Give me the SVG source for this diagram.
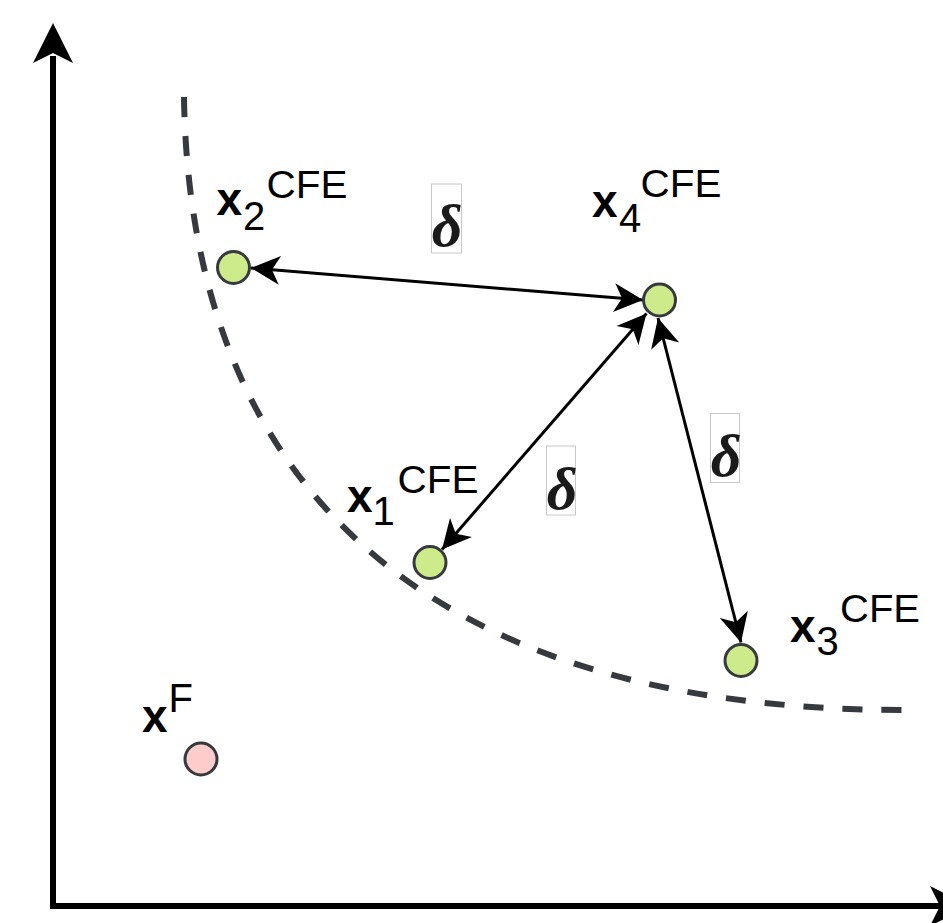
<svg xmlns="http://www.w3.org/2000/svg" width="943" height="923" viewBox="0 0 943 923">
  <defs>
    <style>
      .pt { stroke: #36393d; stroke-width: 3; }
      .cfe { fill: #cdeb8b; }
      .fac { fill: #ffcccc; }
      .xb { font-family: "Liberation Sans", Arial, sans-serif; font-weight: bold; font-size: 46px; fill: #000; }
      .sub { font-family: "Liberation Sans", Arial, sans-serif; font-size: 40px; fill: #000; }
      .sup { font-family: "Liberation Sans", Arial, sans-serif; font-size: 38px; fill: #000; }
      .dl { font-family: "Liberation Serif", "Times New Roman", serif; font-weight: bold; font-style: italic; font-size: 60px; fill: #1a1a1a; text-anchor: middle; }
      .dbox { fill: #ffffff; stroke: #c8c8c8; stroke-width: 1; }
      .conn { fill: none; stroke: #000; stroke-width: 3; marker-start: url(#ah); marker-end: url(#ah); }
    </style>
    <marker id="ah" markerUnits="userSpaceOnUse" viewBox="-30 -16 32 32" refX="0" refY="0" markerWidth="32" markerHeight="32" orient="auto-start-reverse" overflow="visible">
      <path d="M0,0 L-29,-14.5 L-21,0 L-29,14.5 Z" fill="#000"/>
    </marker>
  </defs>
  <rect width="943" height="923" fill="#ffffff"/>

  <g id="axes">
    <path d="M53,56 L53,906 L962,906" fill="none" stroke="#000" stroke-width="6" stroke-linejoin="miter"/>
    <path d="M53,23 L73,63 L53,53 L33,63 Z" fill="#000"/>
    <path d="M970,906 L930,886 L940,906 L930,926 Z" fill="#000"/>
  </g>

  <g id="front">
    <path d="M184,97 C190,480 420,710 905,710" fill="none" stroke="#36393d" stroke-width="6" stroke-dasharray="20 19"/>
  </g>

  <g id="connectors">
    <line class="conn" x1="251" y1="268" x2="643" y2="300"/>
    <line class="conn" x1="646.5" y1="313.5" x2="442" y2="549.5"/>
    <line class="conn" x1="658" y1="318" x2="741" y2="642.5"/>
  </g>

  <g id="delta1">
    <rect class="dbox" x="431.5" y="184" width="30" height="69"/>
    <text class="dl" x="447" y="246">δ</text>
  </g>
  <g id="delta2">
    <rect class="dbox" x="546.5" y="446" width="29" height="69"/>
    <text class="dl" x="562" y="508.5">δ</text>
  </g>
  <g id="delta3">
    <rect class="dbox" x="710.5" y="413.5" width="29" height="69"/>
    <text class="dl" x="726" y="476">δ</text>
  </g>

  <g id="x2">
    <circle class="pt cfe" cx="233.5" cy="267.5" r="16"/>
    <text class="xb" x="216.5" y="215">x</text>
    <text class="sub" x="243" y="230">2</text>
    <text class="sup" x="266.5" y="197.5" textLength="81" lengthAdjust="spacingAndGlyphs">CFE</text>
  </g>

  <g id="x4">
    <circle class="pt cfe" cx="659.5" cy="300" r="16"/>
    <text class="xb" x="592" y="216.5">x</text>
    <text class="sub" x="619" y="231.5">4</text>
    <text class="sup" x="640.5" y="197" textLength="81" lengthAdjust="spacingAndGlyphs">CFE</text>
  </g>

  <g id="x1">
    <circle class="pt cfe" cx="430" cy="562.5" r="16"/>
    <text class="xb" x="347" y="511.5">x</text>
    <text class="sub" x="372.5" y="525">1</text>
    <text class="sup" x="397.5" y="492.5" textLength="81" lengthAdjust="spacingAndGlyphs">CFE</text>
  </g>

  <g id="x3">
    <circle class="pt cfe" cx="741" cy="660.5" r="16"/>
    <text class="xb" x="790" y="641.5">x</text>
    <text class="sub" x="816.5" y="655">3</text>
    <text class="sup" x="840" y="622" textLength="80" lengthAdjust="spacingAndGlyphs">CFE</text>
  </g>

  <g id="xF">
    <circle class="pt fac" cx="201" cy="759" r="16"/>
    <text class="xb" x="142" y="731.5">x</text>
    <text class="sub" x="168.5" y="711.7" font-size="39">F</text>
  </g>
</svg>
